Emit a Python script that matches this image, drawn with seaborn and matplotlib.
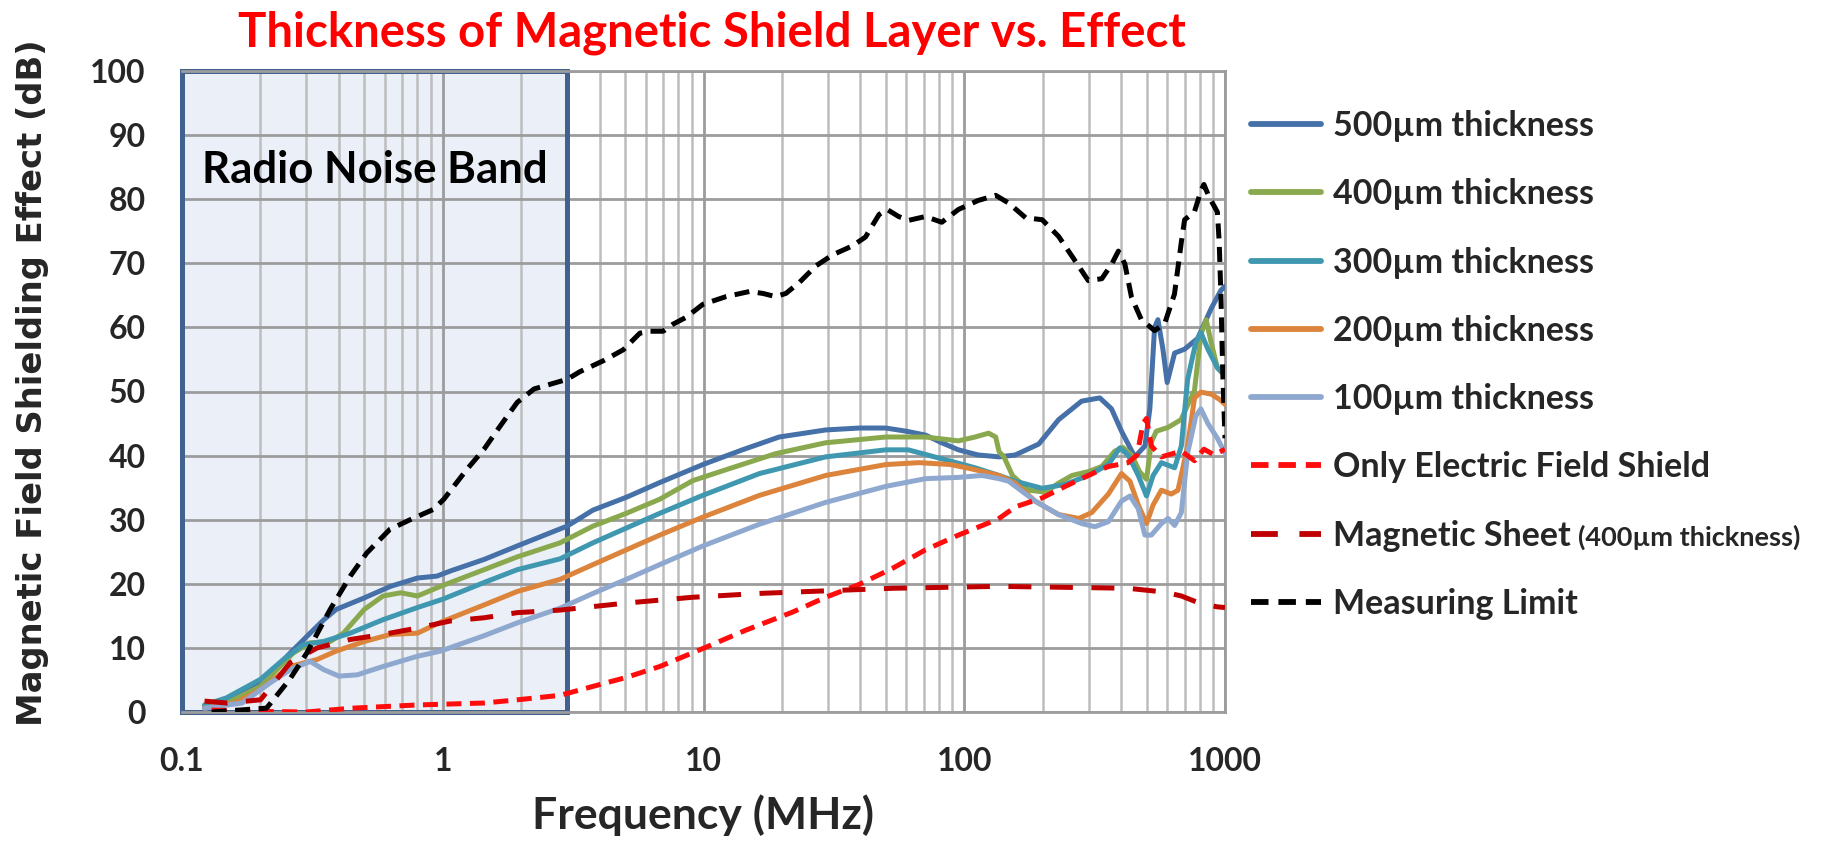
import matplotlib
matplotlib.use("Agg")
import numpy as np
import pandas as pd
import matplotlib.pyplot as plt
import seaborn as sns
from matplotlib.patches import Rectangle
from matplotlib.ticker import FixedLocator, NullFormatter

# ---------------- data ----------------
f_500 = [0.122, 0.148, 0.2, 0.26, 0.31, 0.35, 0.39, 0.5, 0.63, 0.8, 0.95, 1.07, 1.44, 1.93, 2.6, 3.0,
         3.77, 5.06, 6.8, 9.94, 14.1, 19.5, 29.4, 39.5, 50, 60, 71, 82, 95, 113, 136, 157, 193, 230,
         282, 331, 367, 401, 451, 493, 515, 537, 553, 578, 600, 641, 700, 786, 884, 965, 1000]
db_500 = [0.9, 1.7, 4.5, 9.2, 12.3, 14.4, 16.0, 17.8, 19.6, 20.9, 21.2, 22.0, 23.8, 25.9, 28.0, 29.0,
          31.5, 33.5, 35.8, 38.6, 40.9, 42.9, 44.0, 44.3, 44.3, 43.8, 43.2, 42.0, 40.9, 40.1, 39.8, 40.1, 41.8, 45.6,
          48.5, 49.0, 47.3, 43.8, 39.8, 41.5, 47.3, 60.0, 61.2, 56.6, 51.4, 56.0, 56.6, 58.3, 62.9, 65.8, 66.4]

f_400 = [0.122, 0.15, 0.2, 0.267, 0.31, 0.37, 0.416, 0.5, 0.59, 0.69, 0.8, 0.98, 1.44, 1.93, 2.82,
         3.77, 5.06, 6.8, 9.1, 12.2, 18.9, 29.4, 50, 71, 95, 110, 124, 132, 136, 142, 153, 177, 205,
         230, 259, 299, 337, 378, 405, 440, 470, 500, 522, 545, 605, 678, 764, 808, 847, 884, 935, 1000]
db_400 = [0.8, 1.5, 4.0, 9.2, 10.8, 11.0, 12.3, 16.0, 18.1, 18.6, 18.1, 19.6, 22.2, 24.2, 26.4,
          29.0, 31.0, 33.2, 36.1, 37.8, 40.3, 42.0, 42.9, 42.9, 42.3, 42.9, 43.5, 42.9, 40.6, 39.8, 36.9, 34.6, 34.3,
          35.7, 36.9, 37.5, 38.3, 40.7, 41.3, 40.0, 37.5, 36.3, 42.1, 43.8, 44.4, 45.6, 50.2, 58.9, 61.2, 57.7, 53.7, 52.5]

f_300 = [0.122, 0.148, 0.2, 0.245, 0.292, 0.349, 0.442, 0.59, 0.8, 1.0, 1.44, 1.93, 2.82, 3.77, 5.06,
         6.8, 9.94, 16.4, 29.4, 50, 61, 82, 110, 136, 157, 199, 244, 299, 357, 395, 425, 465, 500, 530,
         570, 641, 680, 719, 773, 808, 860, 935, 1000]
db_300 = [1.1, 2.2, 5.1, 8.2, 10.5, 11.0, 12.3, 14.4, 16.3, 17.6, 20.2, 22.2, 23.9, 26.4, 28.7,
          31.0, 33.8, 37.2, 39.8, 40.9, 40.9, 39.5, 38.1, 36.9, 36.0, 34.9, 35.5, 36.9, 38.6, 41.2, 40.1, 36.9, 33.7, 36.9,
          38.9, 38.1, 41.5, 51.9, 57.7, 59.2, 56.6, 53.7, 52.5]

f_200 = [0.122, 0.16, 0.2, 0.26, 0.33, 0.39, 0.5, 0.63, 0.8, 0.98, 1.44, 1.93, 2.82, 3.77, 5.06, 6.8,
         9.94, 16.4, 29.4, 50, 67, 89, 110, 136, 157, 187, 230, 275, 308, 357, 401, 432, 465, 500, 530,
         570, 622, 660, 719, 764, 808, 884, 950, 1000]
db_200 = [0.6, 1.4, 3.5, 7.1, 8.2, 9.5, 11.0, 12.1, 12.3, 14.0, 16.7, 18.8, 20.7, 23.0, 25.3, 27.6,
          30.4, 33.8, 36.9, 38.6, 38.9, 38.6, 37.8, 36.9, 35.7, 32.9, 30.8, 30.2, 31.1, 34.0, 37.2, 36.0, 32.3, 29.4, 32.3,
          34.6, 34.0, 34.6, 41.5, 49.0, 49.9, 49.6, 48.8, 48.0]

f_100 = [0.122, 0.17, 0.217, 0.26, 0.31, 0.35, 0.4, 0.47, 0.59, 0.8, 0.98, 1.44, 1.93, 2.82, 3.77,
         5.06, 6.8, 9.94, 16.4, 29.4, 50, 71, 95, 117, 136, 148, 187, 230, 282, 317, 357, 401, 432, 465,
         493, 522, 570, 605, 641, 680, 719, 773, 808, 860, 935, 1000]
db_100 = [0.6, 1.4, 4.5, 6.6, 7.9, 6.6, 5.6, 5.8, 7.1, 8.7, 9.5, 11.9, 13.9, 16.2, 18.5,
          20.7, 23.0, 25.9, 29.3, 32.7, 35.2, 36.4, 36.6, 36.9, 36.4, 36.0, 32.9, 30.8, 29.4, 28.9, 29.7, 32.9, 33.7, 31.7,
          27.6, 27.6, 29.4, 30.2, 29.1, 31.1, 40.4, 46.2, 47.3, 45.0, 42.7, 40.4]

f_elec = [0.13, 0.2, 0.3, 0.45, 0.8, 1.44, 1.93, 2.82, 3.77, 5.06, 6.8, 9.94, 14.6, 22, 29.4, 39.5,
          53, 71, 95, 135, 157, 199, 244, 299, 357, 425, 460, 485, 500, 522, 570, 680, 764, 830, 910, 1000]
db_elec = [0.3, 0.1, 0.0, 0.6, 1.1, 1.4, 1.9, 2.6, 4.0, 5.4, 7.1, 9.9, 12.8, 15.6, 17.9, 19.9,
           22.4, 25.3, 27.6, 30.1, 32.0, 33.4, 35.2, 36.9, 38.3, 38.9, 40.1, 45.0, 45.8, 41.5, 39.8, 40.7, 39.2, 41.0, 40.1, 41.0]

f_sheet = [0.122, 0.148, 0.2, 0.26, 0.33, 0.44, 0.59, 0.8, 1.07, 1.44, 1.93, 2.82, 5.06, 9.1, 16.4,
           29.4, 53, 135, 300, 425, 587, 680, 808, 935, 1000]
db_sheet = [1.7, 1.4, 1.9, 7.7, 10.0, 11.3, 12.1, 13.1, 14.2, 14.7, 15.5, 15.9, 17.0, 17.9, 18.5,
            18.9, 19.3, 19.6, 19.4, 19.3, 18.7, 18.1, 16.9, 16.4, 16.3]

f_limit = [0.13, 0.211, 0.259, 0.301, 0.37, 0.442, 0.511, 0.627, 0.75, 0.92, 1.01, 1.24, 1.44, 1.66,
           1.93, 2.24, 3.0, 3.36, 4.13, 4.92, 5.7, 6.2, 7.0, 7.64, 8.6, 9.94, 12.2, 15, 16.9, 18.9, 20.7,
           23.3, 27, 31.2, 37.2, 41.8, 47.1, 50.6, 56, 61.2, 71, 82, 95, 113, 132, 148, 172, 199, 230,
           266, 299, 337, 368, 390, 413, 438, 478, 537, 587, 640, 680, 700, 763, 810, 830, 870, 935, 950,
           965, 980, 1000]
db_limit = [0.0, 0.6, 5.1, 9.2, 16.0, 21.2, 24.8, 28.5, 30.0, 31.6, 33.2, 37.9, 41.0, 44.6,
            48.3, 50.4, 51.9, 53.1, 54.8, 56.5, 59.1, 59.4, 59.4, 60.5, 61.6, 63.6, 64.8, 65.6, 65.3, 64.8, 65.3,
            67.0, 69.6, 71.3, 72.7, 74.1, 77.6, 78.4, 77.3, 76.7, 77.3, 76.4, 78.4, 79.8, 80.6, 79.4, 77.1, 76.8, 74.2,
            70.4, 67.3, 67.6, 69.9, 71.9, 69.9, 64.7, 61.2, 59.5, 60.6, 65.2, 73.3, 76.8, 78.0, 81.4, 82.3, 80.3, 78.0, 73.3,
            64.7, 53.1, 42.7]

series_names = ["500µm thickness", "400µm thickness", "300µm thickness", "200µm thickness",
                "100µm thickness", "Only Electric Field Shield", "Magnetic Sheet", "Measuring Limit"]
sheet_note = "(400µm thickness)"
x_ticks = [0.1, 1, 10, 100, 1000]
x_ticklabels = ["0.1", "1", "10", "100", "1000"]
y_ticks = [0, 10, 20, 30, 40, 50, 60, 70, 80, 90, 100]
band_range = (0.1, 3)
title = "Thickness of Magnetic Shield Layer vs. Effect"
xlabel = "Frequency (MHz)"
ylabel = "Magnetic Field Shielding Effect (dB)"
band_label = "Radio Noise Band"

freqs = [f_500, f_400, f_300, f_200, f_100, f_elec, f_sheet, f_limit]
values = [db_500, db_400, db_300, db_200, db_100, db_elec, db_sheet, db_limit]
df = pd.concat([pd.DataFrame({"freq": f, "db": v, "series": n})
                for f, v, n in zip(freqs, values, series_names)], ignore_index=True)

# ---------------- style ----------------
sns.set_style("white")
plt.rcParams["font.family"] = ["Lato", "DejaVu Sans"]
plt.rcParams["font.weight"] = "bold"

colors = ["#4571a8", "#8aa94f", "#3f98b0", "#dc843c", "#8fa8cf", "#ff0d0d", "#c00000", "#000000"]
palette = dict(zip(series_names, colors))
dash_list = ["", "", "", "", "", (3.0, 1.7), (4.6, 3.7), (3.0, 1.7)]
dashes = dict(zip(series_names, dash_list))

W, H = 1833, 843
fig = plt.figure(figsize=(W / 100, H / 100), dpi=100)
ax = fig.add_axes([182 / W, 1 - 712 / H, (1225 - 182) / W, (712 - 71) / H])

# band box
ax.add_patch(Rectangle((band_range[0], 0), band_range[1] - band_range[0], 100,
                       facecolor="#ebf0f8", edgecolor="none", zorder=0.1))

sns.lineplot(data=df, x="freq", y="db", hue="series", style="series", hue_order=series_names,
             style_order=series_names, palette=palette, dashes=dashes, linewidth=3.6,
             estimator=None, sort=False, ax=ax, zorder=3)

ax.add_patch(Rectangle((band_range[0], 0), band_range[1] - band_range[0], 100,
                       facecolor="none", edgecolor="#41628e", linewidth=3.6, zorder=2.5, clip_on=False))

ax.set_xscale("log")
ax.set_xlim(0.1, 1000)
ax.set_ylim(0, 100)
ax.xaxis.set_major_locator(FixedLocator(x_ticks))
ax.set_xticklabels(x_ticklabels)
minors = [m * 10.0 ** k for k in range(-1, 3) for m in range(2, 10)]
ax.xaxis.set_minor_locator(FixedLocator(minors))
ax.xaxis.set_minor_formatter(NullFormatter())
ax.set_yticks(y_ticks)
ax.set_yticklabels([str(v) for v in y_ticks])
ax.set_axisbelow(True)
ax.grid(True, which="major", axis="y", color="#9c9c9c", linewidth=2.0)
ax.grid(True, which="major", axis="x", color="#9c9c9c", linewidth=2.0)
ax.grid(True, which="minor", axis="x", color="#bdbdbd", linewidth=1.8)
ax.tick_params(axis="both", which="both", length=0)
ax.tick_params(axis="x", pad=25, labelsize=23)
ax.tick_params(axis="y", pad=26, labelsize=23)
for lab in ax.get_xticklabels() + ax.get_yticklabels():
    lab.set_fontweight("bold")
for side in ["top", "right", "bottom"]:
    ax.spines[side].set_color("#9c9c9c")
    ax.spines[side].set_linewidth(2.0)
ax.spines["left"].set_visible(False)
ax.set_xlabel("")
ax.set_ylabel("")

ax.text(np.sqrt(band_range[0] * band_range[1]), 84.6, band_label, ha="center", va="center",
        fontsize=31.5, fontweight="bold", color="black", zorder=4)

# titles
fig.text(712 / W, 1 - 33 / H, title, ha="center", va="center", fontsize=34,
         fontweight="bold", color="#ff0000")
fig.text(703 / W, 1 - 815 / H, xlabel, ha="center", va="center", fontsize=32, fontweight="bold")
fig.text(33 / W, 1 - 383 / H, ylabel, ha="center", va="center", rotation=90, fontsize=24.3,
         fontweight="bold", family=["DejaVu Sans"])

# legend
handles, labels = ax.get_legend_handles_labels()
if ax.get_legend() is not None:
    ax.get_legend().remove()
for h in handles:
    h.set_linewidth(4.2)
leg = fig.legend(handles, labels, loc="center left", bbox_to_anchor=(1251 / W, 1 - 365 / H),
                 frameon=False, fontsize=24.5, handlelength=2.05, handletextpad=0.35,
                 labelspacing=1.065, borderpad=0, borderaxespad=0)
for t in leg.get_texts():
    t.set_fontweight("bold")

fig.canvas.draw()
renderer = fig.canvas.get_renderer()
t = leg.get_texts()[6]
bb = t.get_window_extent(renderer)
_, _, d = renderer.get_text_width_height_descent("lp", t.get_fontproperties(), ismath=False)
fig.text((bb.x1 + 8) / W, (bb.y0 + d) / H, sheet_note, ha="left", va="baseline",
         fontsize=19.5, fontweight="bold")

fig.savefig("out.png", dpi=100)
